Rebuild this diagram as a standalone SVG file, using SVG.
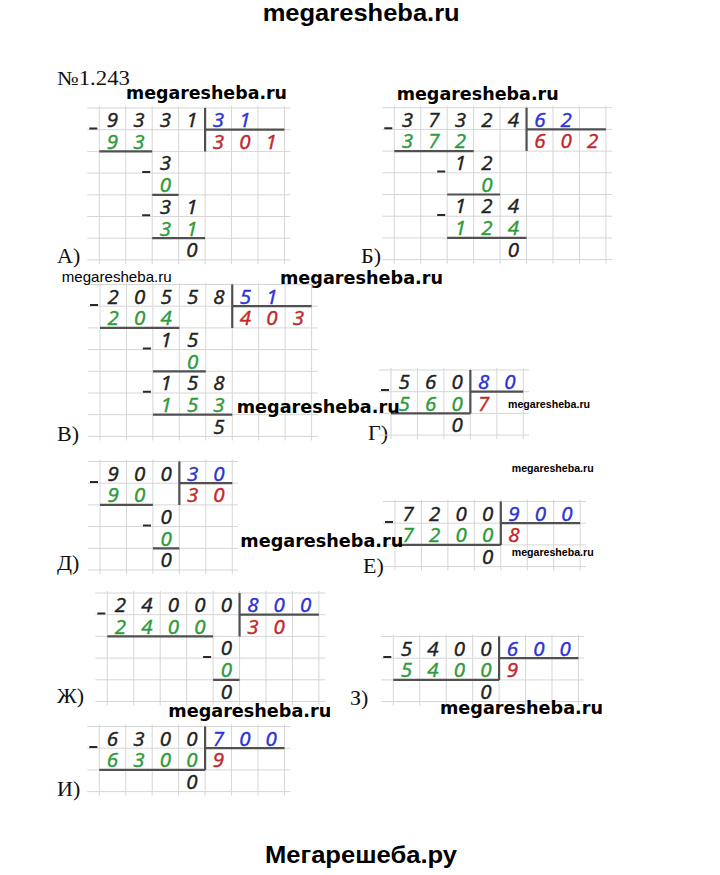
<svg xmlns="http://www.w3.org/2000/svg" xmlns:xlink="http://www.w3.org/1999/xlink" width="720" height="875" viewBox="0 0 720 875">
<style>
.g{stroke:#d6d6d6;stroke-width:1;fill:none}
.h{stroke:#505050;stroke-width:2.2;fill:none}
.m{stroke:#2a2a2a;stroke-width:2;fill:none}
.d{font-family:"Open Sans","Noto Sans","DejaVu Sans",sans-serif;font-style:italic;font-size:20.5px;text-anchor:middle;stroke-width:0.45}
.k{fill:#222;stroke:#222}.n{fill:#2f9a3a;stroke:#2f9a3a}.b{fill:#2c32d6;stroke:#2c32d6}.r{fill:#c4262a;stroke:#c4262a}
.l{font-family:"Liberation Serif","Times New Roman",serif;font-size:22px;fill:#111}
.w{font-family:"DejaVu Sans",Verdana,sans-serif;font-weight:bold;font-size:17px;fill:#000}
.s{font-family:"Liberation Sans",Arial,sans-serif;font-weight:bold;font-size:11px;fill:#000}
.q{font-family:"Liberation Sans",Arial,sans-serif;font-size:15px;fill:#000}
.t{font-family:"Liberation Sans",Arial,sans-serif;font-weight:bold;font-size:24px;fill:#000}
</style>
<defs>
<path id="g7x7" class="g" d="M-12 0H191M-12 21.7H191M-12 43.4H191M-12 65.1H191M-12 86.8H191M-12 108.5H191M-12 130.2H191M-12 151.9H191M0 -2V156M26.45 -2V156M52.9 -2V156M79.35 -2V156M105.8 -2V156M132.25 -2V156M158.7 -2V156M185.15 -2V156"/>
<path id="g8x7" class="g" d="M-12 0H218M-12 21.7H218M-12 43.4H218M-12 65.1H218M-12 86.8H218M-12 108.5H218M-12 130.2H218M-12 151.9H218M0 -2V156M26.45 -2V156M52.9 -2V156M79.35 -2V156M105.8 -2V156M132.25 -2V156M158.7 -2V156M185.15 -2V156M211.6 -2V156"/>
<path id="g5x3" class="g" d="M-12 0H138M-12 21.7H138M-12 43.4H138M-12 65.1H138M0 -2V69M26.45 -2V69M52.9 -2V69M79.35 -2V69M105.8 -2V69M132.25 -2V69"/>
<path id="g5x5" class="g" d="M-12 0H138M-12 21.7H138M-12 43.4H138M-12 65.1H138M-12 86.8H138M-12 108.5H138M0 -2V112.5M26.45 -2V112.5M52.9 -2V112.5M79.35 -2V112.5M105.8 -2V112.5M132.25 -2V112.5"/>
<path id="g7x3" class="g" d="M-12 0H191M-12 21.7H191M-12 43.4H191M-12 65.1H191M0 -2V69M26.45 -2V69M52.9 -2V69M79.35 -2V69M105.8 -2V69M132.25 -2V69M158.7 -2V69M185.15 -2V69"/>
<path id="g8x5" class="g" d="M-12 0H218M-12 21.7H218M-12 43.4H218M-12 65.1H218M-12 86.8H218M-12 108.5H218M0 -2V112.5M26.45 -2V112.5M52.9 -2V112.5M79.35 -2V112.5M105.8 -2V112.5M132.25 -2V112.5M158.7 -2V112.5M185.15 -2V112.5M211.6 -2V112.5"/>
</defs>
<rect width="720" height="875" fill="#fff"/>
<text class="l" x="57" y="85" style="font-size:20px" textLength="73" lengthAdjust="spacingAndGlyphs">№1.243</text>

<g id="problem-a">
<text class="l" x="57" y="263">А)</text>
<g transform="translate(99.3,108)">
<use href="#g7x7" xlink:href="#g7x7"/>
<path class="h" d="M105.8 0V43.4M105.8 21.7H185.15M0 43.4H52.9M52.9 86.8H79.35M52.9 130.2H105.8"/>
<path class="m" d="M-10 20.5H-2M42.9 63.9H50.9M42.9 107.3H50.9"/>
<text class="d k" x="13.2 39.7 66.1 92.6" y="19">9331</text>
<text class="d b" x="119 145.5" y="19">31</text>
<text class="d n" x="13.2 39.7" y="40.7">93</text>
<text class="d r" x="119 145.5 171.9" y="40.7">301</text>
<text class="d k" x="66.1" y="62.4">3</text>
<text class="d n" x="66.1" y="84.1">0</text>
<text class="d k" x="66.1 92.6" y="105.8">31</text>
<text class="d n" x="66.1 92.6" y="127.5">31</text>
<text class="d k" x="92.6" y="149.2">0</text>
</g>
</g>

<g id="problem-b">
<text class="l" x="361" y="263">Б)</text>
<g transform="translate(394.3,107.7)">
<use href="#g8x7" xlink:href="#g8x7"/>
<path class="h" d="M132.25 0V43.4M132.25 21.7H211.6M0 43.4H79.35M52.9 86.8H105.8M52.9 130.2H132.25"/>
<path class="m" d="M-10 20.5H-2M42.9 63.9H50.9M42.9 107.3H50.9"/>
<text class="d k" x="13.2 39.7 66.1 92.6 119" y="19">37324</text>
<text class="d b" x="145.5 171.9" y="19">62</text>
<text class="d n" x="13.2 39.7 66.1" y="40.7">372</text>
<text class="d r" x="145.5 171.9 198.4" y="40.7">602</text>
<text class="d k" x="66.1 92.6" y="62.4">12</text>
<text class="d n" x="92.6" y="84.1">0</text>
<text class="d k" x="66.1 92.6 119" y="105.8">124</text>
<text class="d n" x="66.1 92.6 119" y="127.5">124</text>
<text class="d k" x="119" y="149.2">0</text>
</g>
</g>

<g id="problem-v">
<text class="l" x="57" y="441">В)</text>
<g transform="translate(100,284.5)">
<use href="#g8x7" xlink:href="#g8x7"/>
<path class="h" d="M132.25 0V43.4M132.25 21.7H211.6M0 43.4H79.35M52.9 86.8H105.8M52.9 130.2H132.25"/>
<path class="m" d="M-10 20.5H-2M42.9 63.9H50.9M42.9 107.3H50.9"/>
<text class="d k" x="13.2 39.7 66.1 92.6 119" y="19">20558</text>
<text class="d b" x="145.5 171.9" y="19">51</text>
<text class="d n" x="13.2 39.7 66.1" y="40.7">204</text>
<text class="d r" x="145.5 171.9 198.4" y="40.7">403</text>
<text class="d k" x="66.1 92.6" y="62.4">15</text>
<text class="d n" x="92.6" y="84.1">0</text>
<text class="d k" x="66.1 92.6 119" y="105.8">158</text>
<text class="d n" x="66.1 92.6 119" y="127.5">153</text>
<text class="d k" x="119" y="149.2">5</text>
</g>
</g>

<g id="problem-g">
<text class="l" x="368" y="440">Г)</text>
<g transform="translate(391,370)">
<use href="#g5x3" xlink:href="#g5x3"/>
<path class="h" d="M79.35 0V43.4M79.35 21.7H132.25M0 43.4H79.35"/>
<path class="m" d="M-10 20H-2"/>
<text class="d k" x="13.2 39.7 66.1" y="19">560</text>
<text class="d b" x="92.6 119" y="19">80</text>
<text class="d n" x="13.2 39.7 66.1" y="40.7">560</text>
<text class="d r" x="92.6" y="40.7">7</text>
<text class="d k" x="66.1" y="62.4">0</text>
</g>
</g>

<g id="problem-d">
<text class="l" x="57" y="570">Д)</text>
<g transform="translate(100,461.5)">
<use href="#g5x5" xlink:href="#g5x5"/>
<path class="h" d="M79.35 0V43.4M79.35 21.7H132.25M0 43.4H52.9M52.9 86.8H79.35"/>
<path class="m" d="M-10 20.5H-2M42.9 63.9H50.9"/>
<text class="d k" x="13.2 39.7 66.1" y="19">900</text>
<text class="d b" x="92.6 119" y="19">30</text>
<text class="d n" x="13.2 39.7" y="40.7">90</text>
<text class="d r" x="92.6 119" y="40.7">30</text>
<text class="d k" x="66.1" y="62.4">0</text>
<text class="d n" x="66.1" y="84.1">0</text>
<text class="d k" x="66.1" y="105.8">0</text>
</g>
</g>

<g id="problem-e">
<text class="l" x="363" y="573">Е)</text>
<g transform="translate(395,501.5)">
<use href="#g7x3" xlink:href="#g7x3"/>
<path class="h" d="M105.8 0V43.4M105.8 21.7H185.15M0 43.4H105.8"/>
<path class="m" d="M-10 20.5H-2"/>
<text class="d k" x="13.2 39.7 66.1 92.6" y="19">7200</text>
<text class="d b" x="119 145.5 171.9" y="19">900</text>
<text class="d n" x="13.2 39.7 66.1 92.6" y="40.7">7200</text>
<text class="d r" x="119" y="40.7">8</text>
<text class="d k" x="92.6" y="62.4">0</text>
</g>
</g>

<g id="problem-zh">
<text class="l" x="57" y="703">Ж)</text>
<g transform="translate(107.3,593)">
<use href="#g8x5" xlink:href="#g8x5"/>
<path class="h" d="M132.25 0V43.4M132.25 21.7H211.6M0 43.4H105.8M105.8 86.8H132.25"/>
<path class="m" d="M-10 20.5H-2M95.8 63.9H103.8"/>
<text class="d k" x="13.2 39.7 66.1 92.6 119" y="19">24000</text>
<text class="d b" x="145.5 171.9 198.4" y="19">800</text>
<text class="d n" x="13.2 39.7 66.1 92.6" y="40.7">2400</text>
<text class="d r" x="145.5 171.9" y="40.7">30</text>
<text class="d k" x="119" y="62.4">0</text>
<text class="d n" x="119" y="84.1">0</text>
<text class="d k" x="119" y="105.8">0</text>
</g>
</g>

<g id="problem-z">
<text class="l" x="350" y="705">З)</text>
<g transform="translate(393.3,636.5)">
<use href="#g7x3" xlink:href="#g7x3"/>
<path class="h" d="M105.8 0V43.4M105.8 21.7H185.15M0 43.4H105.8"/>
<path class="m" d="M-10 20.5H-2"/>
<text class="d k" x="13.2 39.7 66.1 92.6" y="19">5400</text>
<text class="d b" x="119 145.5 171.9" y="19">600</text>
<text class="d n" x="13.2 39.7 66.1 92.6" y="40.7">5400</text>
<text class="d r" x="119" y="40.7">9</text>
<text class="d k" x="92.6" y="62.4">0</text>
</g>
</g>

<g id="problem-i">
<text class="l" x="57" y="796">И)</text>
<g transform="translate(99.3,726.5)">
<use href="#g7x3" xlink:href="#g7x3"/>
<path class="h" d="M105.8 0V43.4M105.8 21.7H185.15M0 43.4H105.8"/>
<path class="m" d="M-10 20.5H-2"/>
<text class="d k" x="13.2 39.7 66.1 92.6" y="19">6300</text>
<text class="d b" x="119 145.5 171.9" y="19">700</text>
<text class="d n" x="13.2 39.7 66.1 92.6" y="40.7">6300</text>
<text class="d r" x="119" y="40.7">9</text>
<text class="d k" x="92.6" y="62.4">0</text>
</g>
</g>

<g id="watermarks">
<text class="t" x="262.7" y="21" textLength="197" lengthAdjust="spacingAndGlyphs">megaresheba.ru</text>
<text class="w" x="126" y="99" textLength="161" lengthAdjust="spacingAndGlyphs">megaresheba.ru</text>
<text class="w" x="396.7" y="100" textLength="162" lengthAdjust="spacingAndGlyphs">megaresheba.ru</text>
<text class="q" x="61.7" y="282" textLength="110" lengthAdjust="spacingAndGlyphs">megaresheba.ru</text>
<text class="w" x="280" y="284" textLength="163" lengthAdjust="spacingAndGlyphs">megaresheba.ru</text>
<text class="w" x="236.7" y="413.3" textLength="163" lengthAdjust="spacingAndGlyphs">megaresheba.ru</text>
<text class="s" x="508" y="408" textLength="82" lengthAdjust="spacingAndGlyphs">megaresheba.ru</text>
<text class="s" x="511.7" y="471.7" textLength="82" lengthAdjust="spacingAndGlyphs">megaresheba.ru</text>
<text class="w" x="240.3" y="547" textLength="163" lengthAdjust="spacingAndGlyphs">megaresheba.ru</text>
<text class="s" x="511.7" y="556" textLength="82" lengthAdjust="spacingAndGlyphs">megaresheba.ru</text>
<text class="w" x="168.3" y="717" textLength="163" lengthAdjust="spacingAndGlyphs">megaresheba.ru</text>
<text class="w" x="440" y="714" textLength="163" lengthAdjust="spacingAndGlyphs">megaresheba.ru</text>
<text class="t" x="265" y="863" textLength="192" lengthAdjust="spacingAndGlyphs">Мегарешеба.ру</text>
</g>
</svg>
